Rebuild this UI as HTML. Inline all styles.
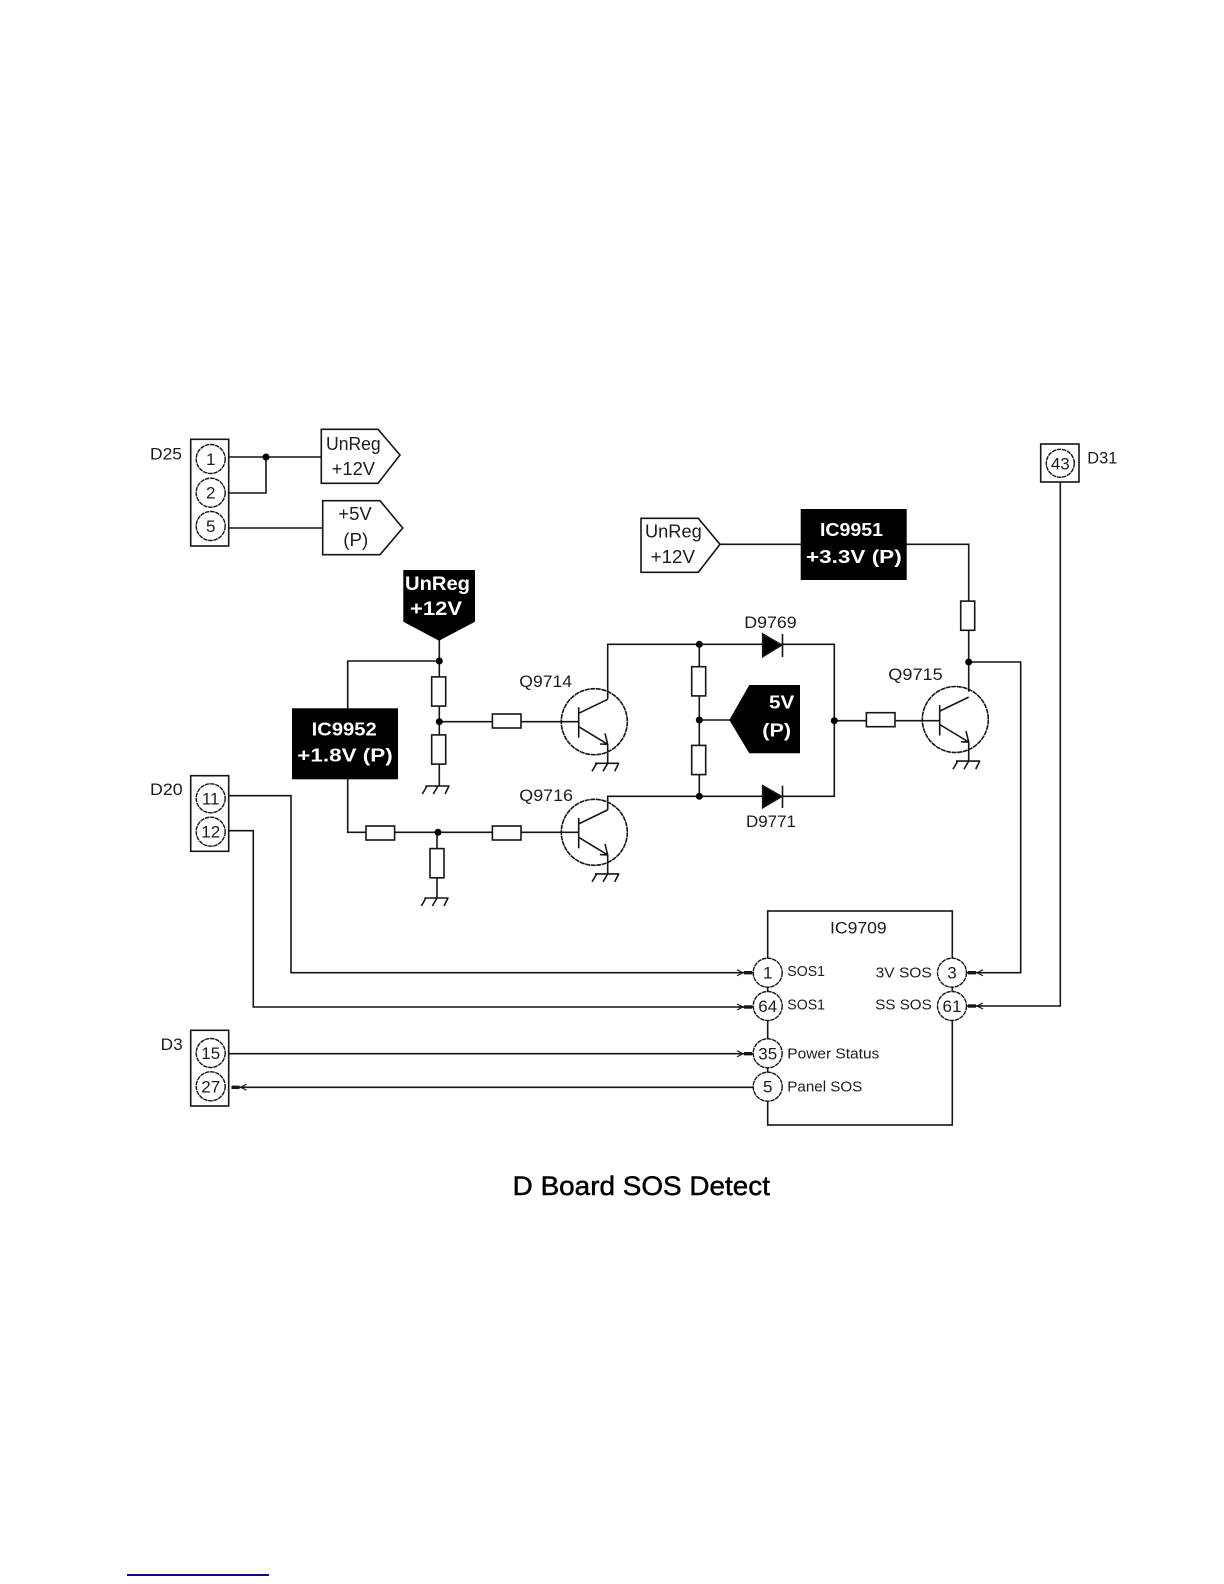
<!DOCTYPE html>
<html><head><meta charset="utf-8"><title>D Board SOS Detect</title>
<style>
html,body{margin:0;padding:0;background:#fff;width:1224px;height:1584px;overflow:hidden}
svg{display:block;filter:blur(.35px)}
text{font-family:"Liberation Sans",sans-serif;fill:#1c1c1c;font-size:17px}
.w{fill:#fff;font-weight:bold}
.n{text-anchor:middle;font-size:17px}
.s{font-size:15px}
</style></head><body>
<svg width="1224" height="1584" viewBox="0 0 1224 1584" xmlns="http://www.w3.org/2000/svg">
<defs>
<g id="gnd" fill="none"><path d="M-12.7 0H11.6M-11 0L-15.7 8M0 0L-4.7 8M11 0L7 8"/></g>
<g id="q" fill="none">
<circle r="33" stroke-dasharray="5 .6"/>
<path d="M-15.6 -14.4V16" />
<path d="M-15.6 -8.4L13.4 -22.4M-15.6 5L13.4 22.6V41.6M13.4 22.6L5.7 22.3M13.4 22.6L10.7 11.6"/>
<use href="#gnd" x="13.4" y="41.6"/>
</g>
<g id="rv"><rect x="-7" y="-14.6" width="14" height="29.2" fill="#fff"/></g>
<g id="rh"><rect x="-14.3" y="-7" width="28.6" height="14" fill="#fff"/></g>
<g id="dot"><circle r="3.5" fill="#000" stroke="none"/></g>
<g id="arr"><path d="M-14 0H0" stroke-width="1.4"/><path d="M-8 0H0" stroke-width="3.4"/><path d="M-15 -3L-9 0L-15 3" fill="none" stroke-width="1.1"/></g>
</defs>
<g stroke="#151515" stroke-width="1.6" fill="none">
<!-- D25 -->
<rect x="190.7" y="439.3" width="38" height="106.7"/>
<path d="M229 457H321M229 493H266V457M229 528H322.7"/>
<use href="#dot" x="266" y="457"/>
<path d="M321.3 429.3H378L400 455L378 483.3H321.3Z"/>
<path d="M322.7 500.7H380L402.7 528L380 554.7H322.7Z"/>
<g fill="#fff" stroke-dasharray="4.5 .7" stroke-width="1.4">
<circle cx="210.7" cy="459" r="14.5"/><circle cx="210.7" cy="492.7" r="14.5"/><circle cx="210.7" cy="526" r="14.5"/>
</g>
<!-- D20 -->
<rect x="190.7" y="775.7" width="38" height="75.6"/>
<path d="M229 795.7H291V972.7H753M229 830.7H253.3V1007H753"/>
<g fill="#fff" stroke-dasharray="4.5 .7" stroke-width="1.4"><circle cx="210.7" cy="798.3" r="14.5"/><circle cx="210.7" cy="831.7" r="14.5"/></g>
<!-- D3 -->
<rect x="190.7" y="1030.3" width="38" height="75.7"/>
<path d="M229 1053.7H753M232 1087.3H753"/>
<g fill="#fff" stroke-dasharray="4.5 .7" stroke-width="1.4"><circle cx="210.7" cy="1053" r="14.5"/><circle cx="210.7" cy="1086.3" r="14.5"/></g>
<use href="#arr" transform="translate(231.5,1087.3) scale(-1,1)"/>
<!-- D31 -->
<rect x="1040.7" y="444" width="38.3" height="38"/>
<circle cx="1060.3" cy="463.3" r="14" stroke-dasharray="4.5 .7" stroke-width="1.4"/>
<path d="M1060.3 482V1006H966"/>
<!-- IC9709 -->
<rect x="767.7" y="911" width="184.6" height="214"/>
<g fill="#fff" stroke-dasharray="4.5 .7" stroke-width="1.4">
<circle cx="767.7" cy="972.7" r="14.5"/><circle cx="767.7" cy="1006" r="14.5"/><circle cx="767.7" cy="1053.3" r="14.5"/><circle cx="767.7" cy="1086.7" r="14.5"/>
<circle cx="952" cy="972.7" r="14.5"/><circle cx="952" cy="1006" r="14.5"/>
</g>
<use href="#arr" x="752" y="972.7"/><use href="#arr" x="752" y="1007"/><use href="#arr" x="752" y="1053.7"/>
<use href="#arr" transform="translate(968,972.7) scale(-1,1)"/><use href="#arr" transform="translate(968,1006) scale(-1,1)"/>
<!-- right side feed -->
<path d="M720 544.3H968.7V691.7M968.7 662H1020.7V972.7H966"/>
<use href="#rv" x="967.7" y="615.7"/>
<use href="#dot" x="968.7" y="662"/>
<path d="M641 518.3H698.3L720 544.3L698.3 572.3H641Z"/>
<!-- Q9715 -->
<path d="M834.3 720.7H939"/>
<use href="#rh" x="880.7" y="719.7"/>
<use href="#q" x="955.3" y="719.5"/>
<!-- left network -->
<path d="M439.3 640V786M439.3 661H347.7V832.3H438M439.3 721.7H578.7"/>
<use href="#rv" x="438.7" y="691.5"/><use href="#rv" x="438.7" y="749.5"/>
<use href="#dot" x="439.3" y="661"/><use href="#dot" x="439.3" y="721.7"/>
<use href="#gnd" x="438" y="786"/>
<use href="#rh" x="506.7" y="721"/>
<path d="M438 832.3H578.7M437 832.3V898"/>
<use href="#rh" x="380.3" y="833"/><use href="#rh" x="506.7" y="833"/>
<use href="#rv" x="437" y="863.2"/>
<use href="#dot" x="438" y="832.3"/>
<use href="#gnd" x="437" y="898"/>
<!-- Q9714, Q9716 -->
<use href="#q" x="594.3" y="721.7"/>
<use href="#q" x="594.3" y="832.3"/>
<path d="M607.7 699.3V644.3H834.3V796.3H607.7V810"/>
<path d="M699.3 644.3V796.3M699.3 720H730"/>
<use href="#rv" x="698.7" y="681.3"/><use href="#rv" x="698.7" y="760"/>
<use href="#dot" x="699.3" y="644.3"/><use href="#dot" x="699.3" y="720"/><use href="#dot" x="699.3" y="796.3"/><use href="#dot" x="834.3" y="720.7"/>
<!-- diodes -->
<path d="M762.7 634L781.7 645L762.7 656.7Z" fill="#000"/><path d="M782.5 634V657"/>
<path d="M762.7 785.7L781.7 796.5L762.7 807.7Z" fill="#000"/><path d="M782.5 785.7V808"/>
</g>
<!-- black shapes -->
<path d="M403.3 570H475V621.7L439 640.7L403.3 621.7Z" fill="#000"/>
<rect x="292" y="708.3" width="106" height="71" fill="#000"/>
<rect x="800.7" y="509" width="106" height="71" fill="#000"/>
<path d="M729.3 720L749.3 685H800V753.3H749.3Z" fill="#000"/>
<!-- underline -->
<rect x="127" y="1574" width="142" height="2" fill="#0c0c80"/>
<!-- labels -->
<text x="150" y="459.3" textLength="32" lengthAdjust="spacingAndGlyphs">D25</text>
<text x="150" y="795" textLength="32.7" lengthAdjust="spacingAndGlyphs">D20</text>
<text x="160.7" y="1050" textLength="22" lengthAdjust="spacingAndGlyphs">D3</text>
<text x="1087.3" y="463.3" textLength="30" lengthAdjust="spacingAndGlyphs">D31</text>
<text x="326" y="450" style="font-size:18px" textLength="54.7" lengthAdjust="spacingAndGlyphs">UnReg</text>
<text x="331.7" y="475" style="font-size:18px" textLength="43.3" lengthAdjust="spacingAndGlyphs">+12V</text>
<text x="338.3" y="520" style="font-size:18px" textLength="33.4" lengthAdjust="spacingAndGlyphs">+5V</text>
<text x="343.3" y="546" style="font-size:18px" textLength="25" lengthAdjust="spacingAndGlyphs">(P)</text>
<text x="645" y="537.3" style="font-size:18px" textLength="56.7" lengthAdjust="spacingAndGlyphs">UnReg</text>
<text x="650.7" y="563" style="font-size:18px" textLength="44.3" lengthAdjust="spacingAndGlyphs">+12V</text>
<text class="w" x="405" y="590" style="font-size:19px" textLength="65" lengthAdjust="spacingAndGlyphs">UnReg</text>
<text class="w" x="410" y="615" style="font-size:19px" textLength="52" lengthAdjust="spacingAndGlyphs">+12V</text>
<text class="w" x="820" y="536" style="font-size:18px" textLength="63" lengthAdjust="spacingAndGlyphs">IC9951</text>
<text class="w" x="806" y="563" style="font-size:18px" textLength="95.7" lengthAdjust="spacingAndGlyphs">+3.3V (P)</text>
<text class="w" x="311.7" y="735.7" style="font-size:18px" textLength="65" lengthAdjust="spacingAndGlyphs">IC9952</text>
<text class="w" x="297.3" y="761.7" style="font-size:18px" textLength="95.4" lengthAdjust="spacingAndGlyphs">+1.8V (P)</text>
<text class="w" x="769" y="708.3" style="font-size:18px" textLength="25.3" lengthAdjust="spacingAndGlyphs">5V</text>
<text class="w" x="762.3" y="736.7" style="font-size:18px" textLength="28.7" lengthAdjust="spacingAndGlyphs">(P)</text>
<text x="519.3" y="687" textLength="52.7" lengthAdjust="spacingAndGlyphs">Q9714</text>
<text x="519.3" y="801" textLength="53.7" lengthAdjust="spacingAndGlyphs">Q9716</text>
<text x="888.3" y="680" textLength="54.4" lengthAdjust="spacingAndGlyphs">Q9715</text>
<text x="744.3" y="628" textLength="52.4" lengthAdjust="spacingAndGlyphs">D9769</text>
<text x="746" y="827" textLength="50" lengthAdjust="spacingAndGlyphs">D9771</text>
<text x="830" y="933.3" textLength="56.7" lengthAdjust="spacingAndGlyphs">IC9709</text>
<text class="s" x="787.3" y="976" textLength="37.7" lengthAdjust="spacingAndGlyphs">SOS1</text>
<text class="s" x="787.3" y="1009.3" textLength="37.7" lengthAdjust="spacingAndGlyphs">SOS1</text>
<text class="s" x="787.3" y="1058.3" textLength="92" lengthAdjust="spacingAndGlyphs">Power Status</text>
<text class="s" x="787.3" y="1091.7" textLength="75" lengthAdjust="spacingAndGlyphs">Panel SOS</text>
<text class="s" x="875.7" y="977.3" textLength="56" lengthAdjust="spacingAndGlyphs">3V SOS</text>
<text class="s" x="875.3" y="1009.3" textLength="56.4" lengthAdjust="spacingAndGlyphs">SS SOS</text>
<g>
<text class="n" x="210.7" y="465">1</text><text class="n" x="210.7" y="498.7">2</text><text class="n" x="210.7" y="532">5</text>
<text class="n" x="210.7" y="804.3">11</text><text class="n" x="210.7" y="837.7">12</text>
<text class="n" x="210.7" y="1059">15</text><text class="n" x="210.7" y="1092.3">27</text>
<text class="n" x="1060.3" y="469.3">43</text>
<text class="n" x="767.7" y="978.7">1</text><text class="n" x="767.7" y="1012">64</text><text class="n" x="767.7" y="1059.3">35</text><text class="n" x="767.7" y="1092.7">5</text>
<text class="n" x="952" y="978.7">3</text><text class="n" x="952" y="1012">61</text>
</g>
<text x="512.7" y="1195" style="font-size:26.5px;fill:#000;stroke:#000;stroke-width:.45" textLength="257.3" lengthAdjust="spacingAndGlyphs">D Board SOS Detect</text>
</svg>
</body></html>
